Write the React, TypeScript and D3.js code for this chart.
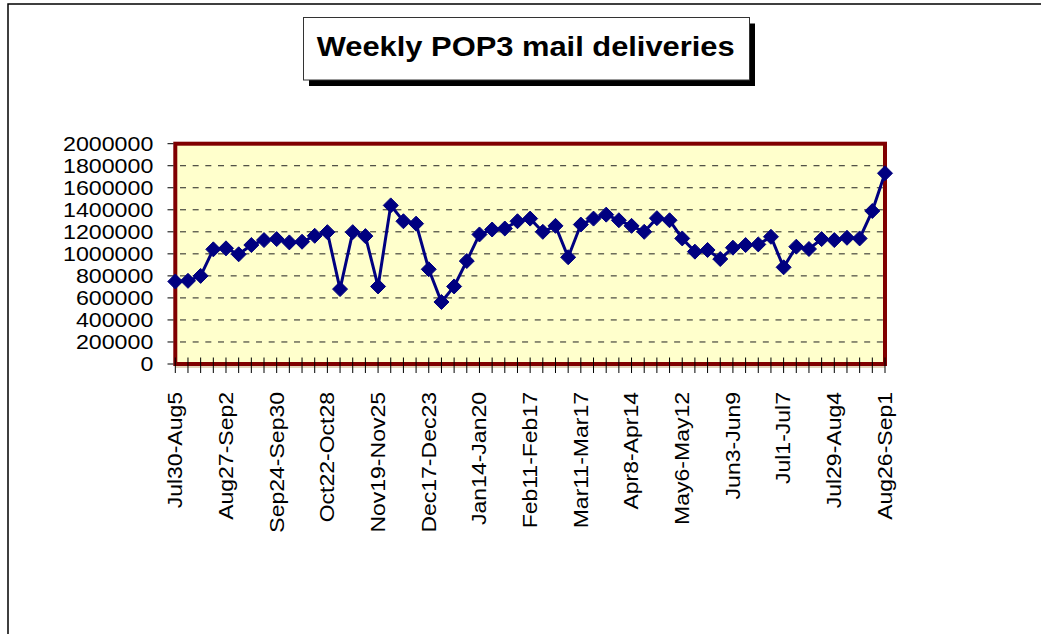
import React from "react";
import * as d3 from "d3";

const weekLabels: string[] = [
  "Jul30-Aug5", "Aug27-Sep2", "Sep24-Sep30", "Oct22-Oct28", "Nov19-Nov25",
  "Dec17-Dec23", "Jan14-Jan20", "Feb11-Feb17", "Mar11-Mar17", "Apr8-Apr14",
  "May6-May12", "Jun3-Jun9", "Jul1-Jul7", "Jul29-Aug4", "Aug26-Sep1",
];

const deliveries: number[] = [
  749000, 755000, 800000, 1041000, 1050000, 996000, 1080000, 1125000, 1134000, 1104000,
  1110000, 1164000, 1197000, 680000, 1197000, 1161000, 704000, 1440000, 1296000, 1274000,
  860000, 563000, 704000, 935000, 1176000, 1221000, 1230000, 1296000, 1320000, 1200000,
  1254000, 969000, 1266000, 1320000, 1356000, 1305000, 1254000, 1200000, 1324000, 1305000,
  1140000, 1020000, 1035000, 953000, 1056000, 1080000, 1086000, 1155000, 878000, 1065000,
  1044000, 1134000, 1125000, 1146000, 1140000, 1389000, 1732000,
];

const yTicks: number[] = [0, 200000, 400000, 600000, 800000, 1000000, 1200000, 1400000, 1600000, 1800000, 2000000];

const titleText = "Weekly POP3 mail deliveries";

export default function App() {
  const left = 175.3, right = 885, top = 143.7, bottom = 364;
  const x = d3.scaleLinear().domain([0, deliveries.length - 1]).range([left, right]);
  const y = d3.scaleLinear().domain([0, 2000000]).range([bottom, top]);
  const line = d3.line<number>().x((_, i) => x(i)).y((d) => y(d));
  const font = "'Liberation Sans', Arial, sans-serif";
  const diamond = (cx: number, cy: number, r: number) =>
    `M${cx},${cy - r}L${cx + r},${cy}L${cx},${cy + r}L${cx - r},${cy}Z`;

  return (
    <svg width={1041} height={634} style={{ position: "absolute", left: 0, top: 0, background: "#fff" }}>
      <rect x={8} y={4} width={1100} height={700} fill="#fff" stroke="#000" strokeWidth={1.5} />
      {/* title */}
      <rect x={309} y={23.5} width={446} height={62.5} fill="#000" />
      <rect x={303.5} y={17.5} width={446} height={62.5} fill="#fff" stroke="#333" strokeWidth={1} />
      <text x={316.7} y={56} fontFamily={font} fontWeight="bold" fontSize={28}
        textLength={418} lengthAdjust="spacingAndGlyphs">{titleText}</text>

      {/* plot area */}
      <rect x={left} y={top} width={right - left} height={bottom - top} fill="#FFFFCC" />
      <line x1={left} x2={right} y1={bottom + 3} y2={bottom + 3} stroke="#c8a878" strokeWidth={1} />
      {yTicks.slice(1).map((t) => (
        <line key={"g" + t} x1={180} x2={883} y1={y(t)} y2={y(t)} stroke="#222"
          strokeWidth={1} strokeDasharray="6 6.67" />
      ))}
      <rect x={left} y={top} width={right - left} height={bottom - top} fill="none" stroke="#800000" strokeWidth={4} />
      {/* y ticks & labels */}
      {yTicks.map((t) => (
        <g key={"y" + t}>
          <line x1={167.5} x2={173.5} y1={y(t)} y2={y(t)} stroke="#000" strokeWidth={1} />
          <text transform={`translate(153.3,${y(t)}) scale(1.19,1)`} textAnchor="end" dy="0.35em"
            fontFamily={font} fontSize={19.5} fill="#000">{t}</text>
        </g>
      ))}
      {/* x ticks */}
      {deliveries.map((_, i) => (
        <line key={"xt" + i} x1={x(i)} x2={x(i)} y1={357.5} y2={373} stroke="#000" strokeWidth={1} />
      ))}
      {weekLabels.map((lab, k) => (
        <text key={"xl" + k} transform={`translate(${x(k * 4)},392) rotate(-90) scale(1.18,1)`}
          textAnchor="end" dy="0.35em" fontFamily={font} fontSize={19.5} fill="#000">{lab}</text>
      ))}
      {/* series */}
      <path d={line(deliveries) || ""} fill="none" stroke="#000080" strokeWidth={3} />
      {deliveries.map((v, i) => (
        <path key={"m" + i} d={diamond(x(i), y(v), 7.5)} fill="#000080" stroke="#000080" strokeWidth={1} />
      ))}
    </svg>
  );
}
